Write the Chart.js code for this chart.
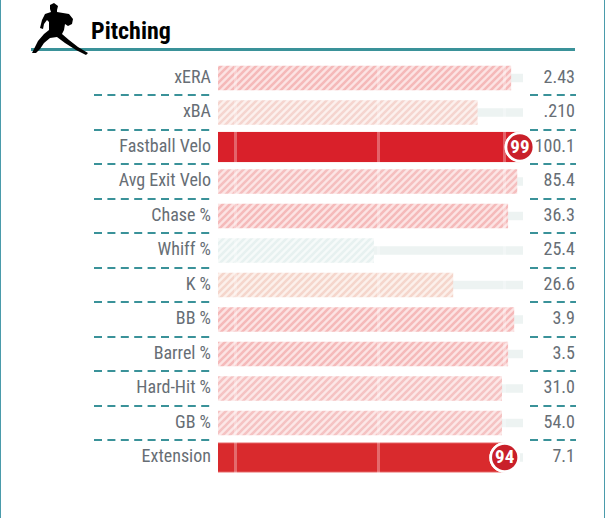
<!DOCTYPE html>
<html>
<head>
<meta charset="utf-8">
<style>
  html, body { margin: 0; background: #fff; }
  #wrap { position: relative; width: 609px; height: 518px; overflow: hidden; }
  #frame { position: absolute; left: 0; top: -4px; width: 603px; height: 521px; border: 1px solid #4a9bab; pointer-events: none; }
</style>
<script src="https://cdn.jsdelivr.net/npm/chart.js@4/dist/chart.umd.min.js"></script>
</head>
<body>
<div id="wrap">
  <canvas id="chart" width="609" height="518"></canvas>
  <div id="frame"></div>
</div>
<script>
const categories = ['xERA', 'xBA', 'Fastball Velo', 'Avg Exit Velo', 'Chase %', 'Whiff %', 'K %', 'BB %', 'Barrel %', 'Hard-Hit %', 'GB %', 'Extension'];
const statLabels = ['2.43', '.210', '100.1', '85.4', '36.3', '25.4', '26.6', '3.9', '3.5', '31.0', '54.0', '7.1'];
const hatchedPct = [96, 85, null, 98, 95, 51, 77, 97, 95, 93, 93, null];
const solidPct = [null, null, 99, null, null, null, null, null, null, null, null, 94];
const trackPct = [100, 100, 100, 100, 100, 100, 100, 100, 100, 100, 100, 100];
const tickPct = [5.9, 52.5, 94];

// stripe colours per row: [stripe, gap]
const hatchColors = [
  ['#f5b9b9', '#fce3e3'], ['#f5d5cf', '#fcf0ed'], null, ['#f5bfbf', '#fce5e5'],
  ['#f5baba', '#fce3e3'], ['#e7f1f0', '#f6faf9'], ['#f5d6cc', '#fcf0eb'], ['#f5b9b9', '#fce3e3'],
  ['#f5baba', '#fce3e3'], ['#f5c3c3', '#fce7e7'], ['#f5c3c3', '#fce7e7'], null
];
const solidColors = [null, null, '#d9202a', null, null, null, null, null, null, null, null, '#d92a2d'];
const solidBorders = [null, null, '#d9202a', null, null, null, null, null, null, null, null, '#ec7a7a'];

const TEAL = '#3a9299';
const GREY = '#676e75';
const FONT = 'Roboto';

function hatch(colors) {
  if (!colors) return 'transparent';
  const s = 7;
  const c = document.createElement('canvas');
  c.width = s; c.height = s;
  const g = c.getContext('2d');
  g.fillStyle = colors[1];
  g.fillRect(0, 0, s, s);
  g.strokeStyle = colors[0];
  g.lineWidth = 2.6;
  g.beginPath();
  g.moveTo(-1, 1); g.lineTo(1, -1);
  g.moveTo(-1, s + 1); g.lineTo(s + 1, -1);
  g.moveTo(s - 1, s + 1); g.lineTo(s + 1, s - 1);
  g.stroke();
  return g.createPattern(c, 'repeat');
}

// pitcher silhouette next to the title
const pitcher = [[50,5],[54,3],[58,6],[57,10],[57,12],[63,13],[69,14],[73,19],[72,24],[68,26],[65,24],[64,30],[62,34],[69,40],[78,47],[88,53],[86,55],[76,50],[65,43],[57,37],[50,38],[44,43],[40,49],[36,53],[32,53],[34,49],[38,41],[44,34],[49,30],[49,22],[47,20],[44,24],[43,29],[40,28],[42,20],[45,14],[51,12],[50,9]];

const decorations = {
  id: 'decorations',
  beforeDraw(chart) {
    chart.ctx.fillStyle = '#fff';
    chart.ctx.fillRect(0, 0, chart.width, chart.height);
  },
  beforeDatasetsDraw(chart) {
    const ctx = chart.ctx;
    const y = chart.scales.y;
    ctx.save();
    // header rule
    ctx.fillStyle = TEAL;
    ctx.fillRect(31, 48, 544, 3);
    // icon
    ctx.fillStyle = '#000';
    ctx.beginPath();
    pitcher.forEach((p, i) => i ? ctx.lineTo(p[0], p[1]) : ctx.moveTo(p[0], p[1]));
    ctx.closePath();
    ctx.fill();
    // title
    ctx.font = '700 condensed 24px ' + FONT;
    ctx.textBaseline = 'alphabetic';
    ctx.fillText('Pitching', 91, 39);
    // dashed row separators in the label gutters
    ctx.strokeStyle = TEAL;
    ctx.lineWidth = 2;
    ctx.setLineDash([8, 5.4]);
    for (let i = 0; i < categories.length - 1; i++) {
      const py = Math.round((y.getPixelForValue(i) + y.getPixelForValue(i + 1)) / 2);
      ctx.beginPath(); ctx.moveTo(94, py); ctx.lineTo(211, py); ctx.stroke();
      ctx.beginPath(); ctx.moveTo(530, py); ctx.lineTo(576, py); ctx.stroke();
    }
    ctx.restore();
  },
  afterDraw(chart) {
    // rank badges sit above the translucent tick marks
    const ctx = chart.ctx;
    const meta = chart.getDatasetMeta(0);
    meta.data.forEach((pt, i) => {
      if (solidPct[i] === null) return;
      pt.draw(ctx);
      ctx.save();
      ctx.fillStyle = '#fff';
      ctx.font = '700 condensed 19px ' + FONT;
      ctx.textAlign = 'center';
      ctx.textBaseline = 'middle';
      ctx.fillText(String(solidPct[i]), pt.x, pt.y + 1);
      ctx.restore();
    });
  }
};

const canvas = document.getElementById('chart');
canvas.getContext('2d', { alpha: false });

new Chart(canvas, {
  type: 'bar',
  data: {
    labels: categories,
    datasets: [
      { type: 'line', data: solidPct, showLine: false, clip: false, order: 0,
        pointRadius: 14, pointHoverRadius: 14, pointBackgroundColor: '#c9202a', pointBorderColor: '#fff', pointBorderWidth: 2.7 },
      { data: solidPct, order: 1, barThickness: 30, backgroundColor: solidColors, borderColor: solidBorders, borderWidth: 1 },
      { data: hatchedPct, order: 2, barThickness: 24, backgroundColor: hatchColors.map(hatch) },
      { data: trackPct, order: 3, barThickness: 8, backgroundColor: '#edf3f2' }
    ]
  },
  options: {
    indexAxis: 'y',
    responsive: false,
    animation: false,
    events: [],
    layout: { padding: { top: 60.75, bottom: 43.25, right: 34 } },
    plugins: { legend: { display: false }, tooltip: { enabled: false } },
    datasets: { bar: { grouped: false } },
    scales: {
      x: {
        min: 0,
        max: 100,
        afterBuildTicks: (axis) => { axis.ticks = tickPct.map((v) => ({ value: v })); },
        afterFit: (axis) => { axis.height = 0; },
        ticks: { display: false },
        border: { display: false },
        grid: { z: 1, color: 'rgba(255,255,255,0.3)', lineWidth: 3, drawTicks: false }
      },
      y: {
        afterFit: (axis) => { axis.width = 218; },
        grid: { display: false, drawTicks: false },
        border: { display: false },
        ticks: { padding: 7, color: GREY, autoSkip: false, font: { family: FONT, size: 18, weight: '400 condensed' } }
      },
      yr: {
        type: 'category',
        position: 'right',
        labels: statLabels,
        afterFit: (axis) => { axis.width = 52; },
        grid: { display: false, drawTicks: false },
        border: { display: false },
        ticks: { padding: 0, crossAlign: 'far', color: GREY, autoSkip: false, font: { family: FONT, size: 18, weight: '400 condensed' } }
      }
    }
  },
  plugins: [decorations]
});
</script>
</body>
</html>
